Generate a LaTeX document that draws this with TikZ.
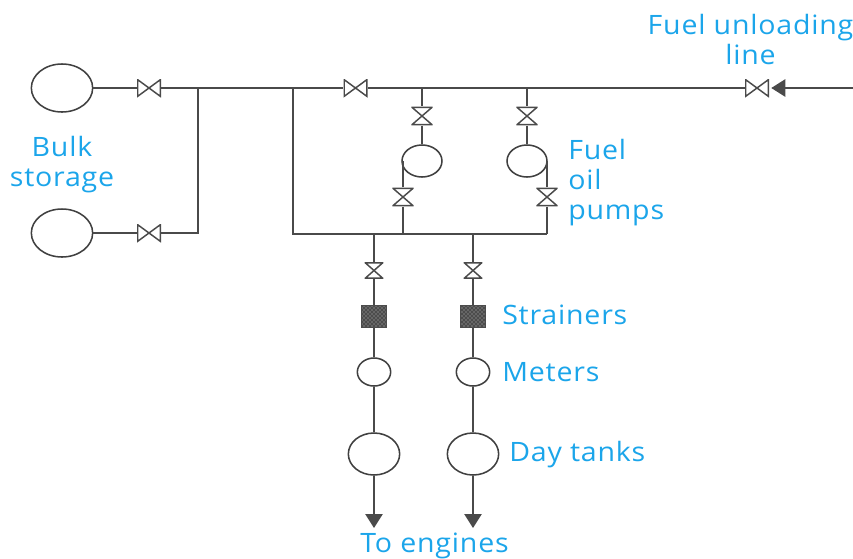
\documentclass[tikz,border=0pt]{standalone}
\usepackage{fontspec}
\setmainfont[LetterSpace=3,FakeStretch=1.07]{Open Sans}
\usetikzlibrary{arrows.meta,patterns,shapes.geometric}
\definecolor{lab}{HTML}{1BA5EA}
\definecolor{ln}{HTML}{4A4A4A}
\tikzset{
  line/.style={draw=ln,line width=1.1pt},
  vessel/.style={shape=ellipse,draw=black!75,line width=1.15pt,inner sep=0pt,fill=white},
  hvalve/.style={shape=rectangle,inner sep=0pt,minimum width=18pt,minimum height=13.5pt,
    path picture={\draw[ln,line width=1.1pt,line join=miter]
      ([shift={(.55pt,-.55pt)}]path picture bounding box.north west) --
      ([shift={(-.55pt,.55pt)}]path picture bounding box.south east) --
      ([shift={(-.55pt,-.55pt)}]path picture bounding box.north east) --
      ([shift={(.55pt,.55pt)}]path picture bounding box.south west) -- cycle;}},
  vvalve/.style={shape=rectangle,inner sep=0pt,minimum width=#1,minimum height=14pt,
    path picture={\draw[ln,line width=1.1pt,line join=miter]
      ([shift={(.55pt,-.55pt)}]path picture bounding box.north west) --
      ([shift={(-.55pt,.55pt)}]path picture bounding box.south east) --
      ([shift={(.55pt,.55pt)}]path picture bounding box.south west) --
      ([shift={(-.55pt,-.55pt)}]path picture bounding box.north east) -- cycle;}},
  strainer/.style={shape=rectangle,draw=black!70,line width=.8pt,inner sep=0pt,minimum width=18.5pt,minimum height=16.5pt,fill=black!70,
    path picture={\fill[pattern=crosshatch dots,pattern color=white!75!black] (path picture bounding box.south west) rectangle (path picture bounding box.north east);}},
  label/.style={text=lab,font=\fontsize{20pt}{22.5pt}\selectfont,align=center,inner sep=0pt},
  flow/.style={-{Triangle[length=10.5pt,width=13pt]},line,color=ln},
}
\begin{document}
\begin{tikzpicture}[x=0.75pt,y=-0.75pt]
\useasboundingbox (0,0) rectangle (853,558);
% bulk storage
\node[vessel,minimum width=46pt,minimum height=36pt] (b1) at (62,88) {};
\node[vessel,minimum width=46pt,minimum height=36pt] (b2) at (62,233) {};
\node[hvalve] (vb1) at (149,88) {};
\node[hvalve] (vb2) at (149,233) {};
\coordinate (j1) at (198,88);
\coordinate (j2) at (198,233);
\coordinate (j3) at (293,88);
\coordinate (j4) at (293,234);
\node[hvalve] (vm) at (355.5,88) {};
\coordinate (t1) at (422,88);
\coordinate (t2) at (527,88);
\node[hvalve] (vf) at (757,88) {};
\coordinate (fe) at (853,88);
% pumps
\node[vvalve=16pt] (va1) at (422,116) {};
\node[vvalve=16pt] (va2) at (527,116) {};
\node[vessel,minimum width=30pt,minimum height=24pt] (p1) at (422,161) {};
\node[vessel,minimum width=30pt,minimum height=24pt] (p2) at (527,161) {};
\node[vvalve=16pt] (vc1) at (403,197) {};
\node[vvalve=16pt] (vc2) at (547,197) {};
\coordinate (h1) at (403,234);
\coordinate (h2) at (547,234);
\coordinate (h3) at (374,234);
\coordinate (h4) at (473,234);
% engine branches
\node[vvalve=14pt,minimum height=12.5pt] (vd1) at (374,270.5) {};
\node[vvalve=14pt,minimum height=12.5pt] (vd2) at (473,270.5) {};
\node[strainer] (s1) at (374,316.5) {};
\node[strainer] (s2) at (473,316.5) {};
\node[vessel,minimum width=25pt,minimum height=21pt] (m1) at (374,372) {};
\node[vessel,minimum width=25pt,minimum height=21pt] (m2) at (473,372) {};
\node[vessel,minimum width=38.5pt,minimum height=31.5pt] (d1) at (374,454) {};
\node[vessel,minimum width=38.5pt,minimum height=31.5pt] (d2) at (473,454) {};
\coordinate (e1) at (374,528);
\coordinate (e2) at (473,528);
% connectors
\draw[line] (b1) -- (vb1);
\draw[line] (b2) -- (vb2);
\draw[line] (vb1) -- (j1) -- (j2) -- (vb2);
\draw[line] (j1) -- (j3) -- (vm);
\draw[line] (vm) -- (t1) -- (t2) -- (vf);
\draw[line] (j3) -- (j4) -- (h3) -- (h1) -- (h4) -- (h2);
\draw[flow,shorten >=1.5pt] (fe) -- (vf);
\draw[line] (t1) -- (va1);
\draw[line] (t2) -- (va2);
\draw[line] (va1) -- (p1);
\draw[line] (va2) -- (p2);
\draw[line] (vc1) -- (vc1 |- p1);
\draw[line] (vc2) -- (vc2 |- p2);
\draw[line] (vc1) -- (h1);
\draw[line] (vc2) -- (h2);
\draw[line] (h3) -- (vd1);
\draw[line] (h4) -- (vd2);
\draw[line] (vd1) -- (s1);
\draw[line] (vd2) -- (s2);
\draw[line] (s1) -- (m1);
\draw[line] (s2) -- (m2);
\draw[line] (m1) -- (d1);
\draw[line] (m2) -- (d2);
\draw[flow] (d1) -- (e1);
\draw[flow] (d2) -- (e2);
% labels
\node[label] (l1) at (750.5,39) {Fuel unloading\\line};
\node[label] (l2) at (62,164.5) {Bulk\\storage};
\node[label,align=left,anchor=west] (l3) at (568,183) {Fuel\\oil\\pumps};
\node[label,anchor=west] (l4) at (502,315) {Strainers};
\node[label,anchor=west] (l5) at (502,372) {Meters};
\node[label,anchor=west] (l6) at (509,454.5) {Day tanks};
\node[label] (l7) at (434.5,546) {To engines};
\end{tikzpicture}
\end{document}
